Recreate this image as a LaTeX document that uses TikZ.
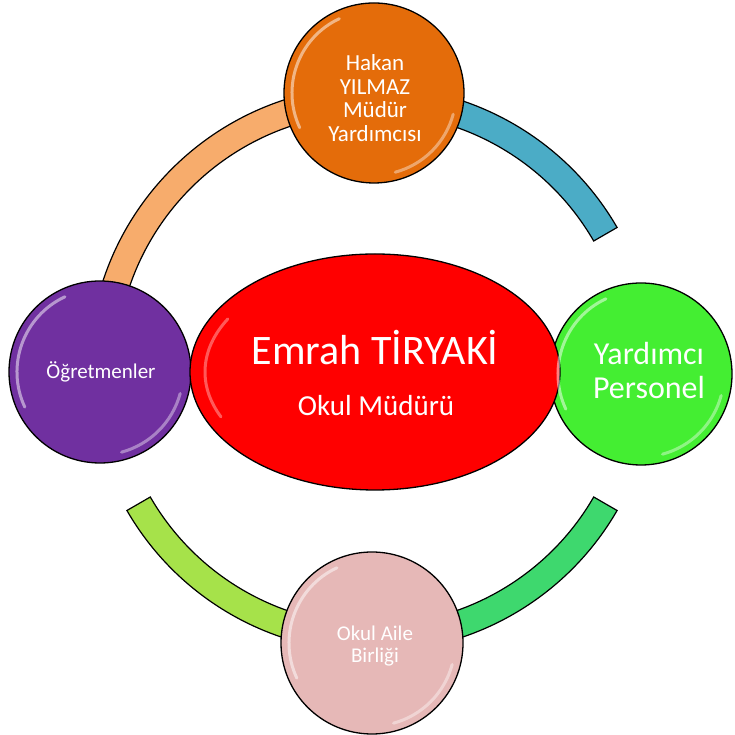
\documentclass[tikz,border=0pt]{standalone}
\usepackage{fontspec}
\setmainfont{Carlito}
\usetikzlibrary{shapes.geometric,calc}
\definecolor{cOrange}{RGB}{228,108,10}
\definecolor{cPurple}{RGB}{112,48,160}
\definecolor{cGreen}{RGB}{68,238,50}
\definecolor{cPink}{RGB}{230,184,183}
\definecolor{cRed}{RGB}{255,0,0}
\definecolor{aBlue}{RGB}{75,172,198}
\definecolor{aOrange}{RGB}{247,172,108}
\definecolor{aGreen}{RGB}{62,216,110}
\definecolor{aLime}{RGB}{166,226,74}
\tikzset{
  ball/.style={circle,draw=black,line width=1.3pt,text=white,align=center,inner sep=0pt},
  band/.style={draw=black,line width=1.2pt},
  gloss/.style={white,line width=3pt,line cap=round},
  txt/.style={text=white,align=center,inner sep=0pt}
}
\newcommand\mygloss[2]{%
  \draw[gloss,opacity=.5] ($(#1.center)+(115:#2)$) arc (115:205:#2);
  \draw[gloss,opacity=.4] ($(#1.center)+(-15:#2)$) arc (-15:-75:#2);}
\begin{document}
\begin{tikzpicture}[x=1pt,y=1pt]
\useasboundingbox (0,0) rectangle (734,735);
% ring bands
\begin{scope}[shift={(372,366)}]
  \def\Ro{283}\def\Ri{256}
  \draw[band,fill=aOrange] (180:\Ro) arc (180:90:\Ro) -- (90:\Ri) arc (90:180:\Ri) -- cycle;
  \draw[band,fill=aBlue] (90:\Ro) arc (90:30:\Ro) -- (30:\Ri) arc (30:90:\Ri) -- cycle;
  \draw[band,fill=aGreen] (-30:\Ro) arc (-30:-90:\Ro) -- (-90:\Ri) arc (-90:-30:\Ri) -- cycle;
  \draw[band,fill=aLime] (210:\Ro) arc (210:270:\Ro) -- (270:\Ri) arc (270:210:\Ri) -- cycle;
\end{scope}
% circles
\node[ball,fill=cOrange,minimum size=180pt] (top) at (374,642) {};
\node[ball,fill=cPurple,minimum size=182pt] (left) at (100,363) {};
\node[ball,fill=cGreen,minimum size=182pt] (right) at (641,361) {};
\node[ball,fill=cPink,minimum size=182pt] (bottom) at (372,92) {};
\node[ellipse,draw=black,line width=1.3pt,fill=cRed,minimum width=370pt,minimum height=236pt,inner sep=0pt] (mgr) at (375,363) {};
\mygloss{top}{82}
\mygloss{left}{83}
\mygloss{right}{83}
\mygloss{bottom}{83}
\draw[gloss,opacity=.35] ($(mgr.center)+(150:170 and 106)$) arc (150:205:170 and 106);
% texts
\node[txt,font=\fontsize{42}{46}\selectfont] (name) at (375,387) {Emrah TİRYAKİ};
\node[txt,font=\fontsize{29}{32}\selectfont] (title) at (376,329) {Okul Müdürü};
\node[txt,font=\fontsize{23}{23.5}\selectfont] (toptxt) at (375,637) {Hakan\\YILMAZ\\Müdür\\Yardımcısı};
\node[txt,font=\fontsize{21}{24}\selectfont] (lefttxt) at (101,363) {Öğretmenler};
\node[txt,font=\fontsize{32}{34}\selectfont] (righttxt) at (649,364) {Yardımcı\\Personel};
\node[txt,font=\fontsize{21}{22}\selectfont] (bottxt) at (375,89) {Okul Aile\\Birliği};
\end{tikzpicture}
\end{document}
